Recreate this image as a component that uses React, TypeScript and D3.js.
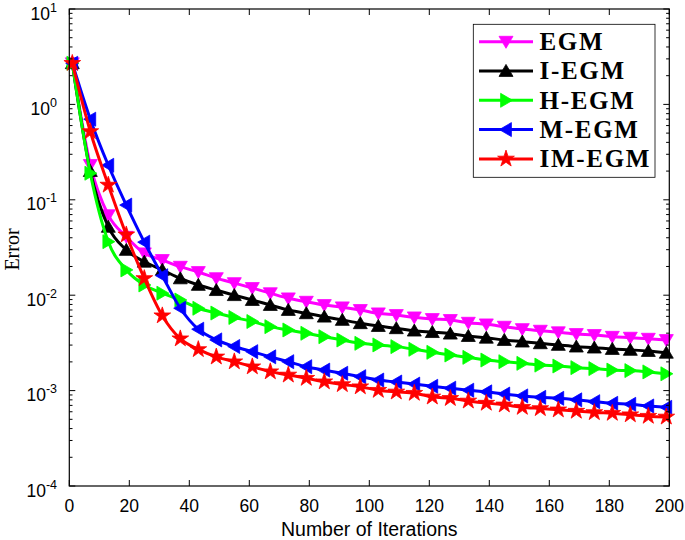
import React from 'react';
import * as d3 from 'd3';

const iterations = [1, 7, 13, 19, 25, 31, 37, 43, 49, 55, 61, 67, 73, 79, 85, 91, 97, 103, 109, 115, 121, 127, 133, 139, 145, 151, 157, 163, 169, 175, 181, 187, 193, 199];

const egm = [2.7, 0.232, 0.069, 0.041, 0.0275, 0.0234, 0.0199, 0.0175, 0.0151, 0.0134, 0.0119, 0.0105, 0.00928, 0.00855, 0.00789, 0.00747, 0.0070, 0.00646, 0.0062, 0.00586, 0.00563, 0.0055, 0.00515, 0.00495, 0.00468, 0.00442, 0.00425, 0.00409, 0.00392, 0.00383, 0.00367, 0.00359, 0.0035, 0.00339];
const iEgm = [2.7, 0.20, 0.052, 0.0298, 0.0224, 0.0184, 0.0150, 0.0128, 0.0113, 0.0100, 0.0089, 0.00789, 0.0070, 0.00646, 0.00595, 0.0055, 0.00508, 0.00475, 0.0045, 0.00425, 0.0041, 0.00395, 0.00373, 0.00358, 0.00339, 0.00326, 0.00313, 0.00301, 0.00289, 0.00282, 0.00273, 0.00267, 0.0026, 0.00249];
const hEgm = [2.7, 0.19, 0.0364, 0.0184, 0.0128, 0.0105, 0.0089, 0.0073, 0.0065, 0.00584, 0.0053, 0.00468, 0.00432, 0.00399, 0.00367, 0.00339, 0.00313, 0.00301, 0.00289, 0.00271, 0.00252, 0.00236, 0.00223, 0.00209, 0.00201, 0.00193, 0.00185, 0.00181, 0.00174, 0.0017, 0.00164, 0.00162, 0.00157, 0.0015];
const mEgm = [2.7, 0.70, 0.23, 0.088, 0.036, 0.016, 0.0073, 0.0044, 0.0034, 0.0029, 0.00256, 0.00226, 0.00201, 0.00178, 0.00164, 0.00152, 0.0014, 0.00129, 0.00123, 0.00117, 0.00111, 0.00106, 0.00101, 0.00097, 0.00092, 0.00088, 0.00085, 0.00083, 0.0008, 0.000765, 0.000736, 0.000718, 0.00069, 0.000668];
const imEgm = [2.7, 0.52, 0.143, 0.043, 0.015, 0.0061, 0.0035, 0.0027, 0.00226, 0.00201, 0.00178, 0.00158, 0.00146, 0.00135, 0.00124, 0.00116, 0.0011, 0.00101, 0.00097, 0.00094, 0.00086, 0.00083, 0.00078, 0.00074, 0.00071, 0.00067, 0.00065, 0.00063, 0.00061, 0.00059, 0.00058, 0.00056, 0.00054, 0.00053];

const seriesNames = ['EGM', 'I-EGM', 'H-EGM', 'M-EGM', 'IM-EGM'];
const seriesValues = [egm, iEgm, hEgm, mEgm, imEgm];
const seriesColors = ['#ff00ff', '#000000', '#00ff00', '#0000ff', '#ff0000'];
const seriesMarkers = ['down', 'up', 'right', 'left', 'star'];

const xTicks = [0, 20, 40, 60, 80, 100, 120, 140, 160, 180, 200];

const W = 685;
const H = 540;
const L = 69.3, R = 669.3, T = 9, B = 486;

function markerPath(kind: string): string {
  const hw = 7, a = 5.4, b = 6.6;
  if (kind === 'down') return `M${-hw},${-a}L${hw},${-a}L0,${b}Z`;
  if (kind === 'up') return `M${-hw},${a}L${hw},${a}L0,${-b}Z`;
  if (kind === 'right') return `M${-a},${-hw}L${-a},${hw}L${b},0Z`;
  if (kind === 'left') return `M${a},${-hw}L${a},${hw}L${-b},0Z`;
  const ro = 8.8, ri = ro * 0.382;
  const pts: string[] = [];
  for (let i = 0; i < 10; i++) {
    const r = i % 2 === 0 ? ro : ri;
    const ang = -Math.PI / 2 + (i * Math.PI) / 5;
    pts.push(`${(r * Math.cos(ang)).toFixed(2)},${(r * Math.sin(ang)).toFixed(2)}`);
  }
  return 'M' + pts.join('L') + 'Z';
}

export default function App() {
  const x = d3.scaleLinear().domain([0, 200]).range([L, R]);
  const y = d3.scaleLog().domain([1e-4, 10]).range([B, T]);
  const yTicks = y.ticks();
  const isMajor = (v: number) => Math.abs(Math.log10(v) - Math.round(Math.log10(v))) < 1e-6;

  const line = d3.line<number>()
    .x((_, i) => x(iterations[i]))
    .y((d) => y(d))
    .curve(d3.curveMonotoneX);

  const tickFont = "'Liberation Sans', Arial, Helvetica, sans-serif";
  const legendY0 = 41.7, legendDy = 29.3;

  return (
    <div style={{ position: 'absolute', left: 0, top: 0 }}>
      <svg width={W} height={H} viewBox={`0 0 ${W} ${H}`} style={{ display: 'block', background: '#fff' }}>
        <rect x={0} y={0} width={W} height={H} fill="#fff" />
        <g>
          {seriesValues.map((vals, si) => (
            <g key={seriesNames[si]}>
              <path d={line(vals) || ''} fill="none" stroke={seriesColors[si]} strokeWidth={3} strokeLinejoin="round" />
              {vals.map((v, i) => (
                <path key={i} d={markerPath(seriesMarkers[si])} transform={`translate(${x(iterations[i])},${y(v)})`}
                  fill={seriesColors[si]} stroke={seriesColors[si]} strokeWidth={0.8} strokeLinejoin="miter" />
              ))}
            </g>
          ))}
        </g>
        <rect x={L} y={T} width={R - L} height={B - T} fill="none" stroke="#000" strokeWidth={1.2} />
        {xTicks.map((t) => (
          <g key={'xt' + t}>
            <line x1={x(t)} x2={x(t)} y1={B} y2={B - 6} stroke="#000" strokeWidth={1} />
            <line x1={x(t)} x2={x(t)} y1={T} y2={T + 6} stroke="#000" strokeWidth={1} />
            <text x={x(t)} y={511.5} textAnchor="middle" fontFamily={tickFont} fontSize={17.5} fill="#000">{t}</text>
          </g>
        ))}
        {yTicks.map((t, i) => {
          const major = isMajor(t);
          const len = major ? 6 : 3.2;
          const yy = y(t);
          return (
            <g key={'yt' + i}>
              <line x1={L} x2={L + len} y1={yy} y2={yy} stroke="#000" strokeWidth={1} />
              <line x1={R} x2={R - len} y1={yy} y2={yy} stroke="#000" strokeWidth={1} />
              {major && (
                <text x={57} y={yy + 10.5} textAnchor="end" fontFamily={tickFont} fontSize={17.5} fill="#000">
                  <tspan>10</tspan>
                  <tspan fontSize={12.5} dy={-8}>{String(Math.round(Math.log10(t)))}</tspan>
                </text>
              )}
            </g>
          );
        })}
        <text x={(L + R) / 2} y={536} textAnchor="middle" fontFamily={tickFont} fontSize={19.5} fill="#000">Number of Iterations</text>
        <text transform={`translate(18.5,${(T + B) / 2 + 2}) rotate(-90)`} textAnchor="middle" fontFamily="'Liberation Serif', 'Times New Roman', serif" fontSize={20} fill="#000">Error</text>
        <rect x={473.3} y={24.3} width={181.7} height={153} fill="#fff" stroke="#000" strokeWidth={0.8} />
        {seriesNames.map((name, si) => {
          const ly = legendY0 + si * legendDy;
          return (
            <g key={'lg' + name}>
              <line x1={479} x2={533} y1={ly} y2={ly} stroke={seriesColors[si]} strokeWidth={3} />
              <path d={markerPath(seriesMarkers[si])} transform={`translate(506,${ly})`} fill={seriesColors[si]} stroke={seriesColors[si]} strokeWidth={0.8} />
              <text x={539.5} y={ly + 8.3} fontFamily="'Liberation Serif', 'Times New Roman', serif" fontWeight="bold" fontSize={25} letterSpacing={1.7} fill="#000">{name}</text>
            </g>
          );
        })}
      </svg>
    </div>
  );
}
